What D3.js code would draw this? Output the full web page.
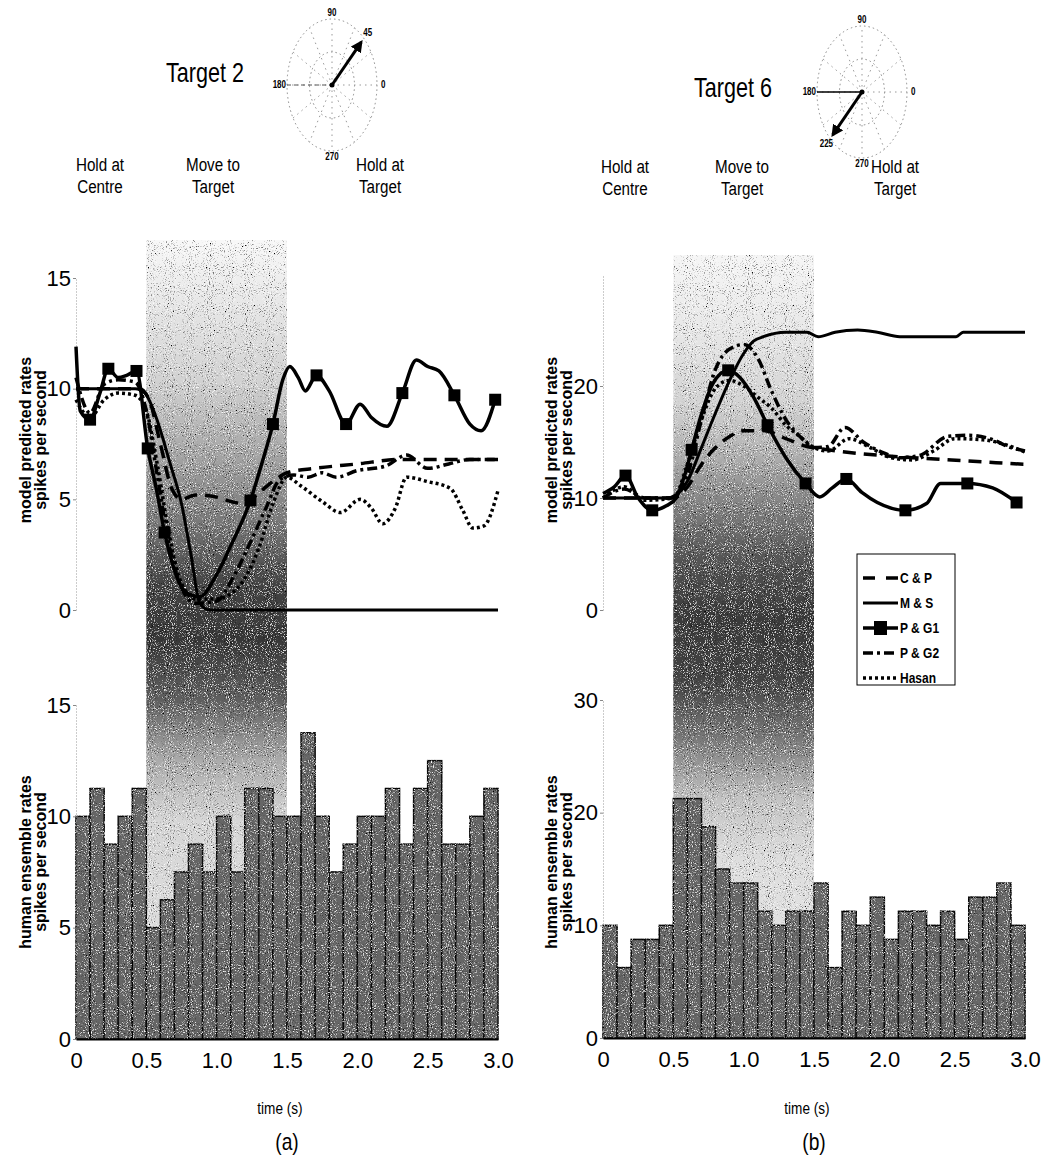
<!DOCTYPE html>
<html>
<head>
<meta charset="utf-8">
<script src="https://cdn.jsdelivr.net/npm/d3@7"></script>
<style>
  body { margin: 0; background: #fff; }
  svg { display: block; }
  text { font-family: "Liberation Sans", Arial, sans-serif; fill: #000; }
</style>
</head>
<body>
<svg id="fig" width="1041" height="1165"></svg>
<script>
// ---- data ----
const panelTitles = ['Target 2', 'Target 6'];
const targetAngles = [45, 225];
const panelLetters = ['(a)', '(b)'];
const phaseNames = [['Hold at', 'Centre'], ['Move to', 'Target'], ['Hold at', 'Target']];
const seriesNames = ['C & P', 'M & S', 'P & G1', 'P & G2', 'Hasan'];
const movePeriod = [0.5, 1.5];

const timeTicks = [0, 0.5, 1, 1.5, 2, 2.5, 3];
const timeTickLabels = ['0', '0.5', '1.0', '1.5', '2.0', '2.5', '3.0'];
const topTicksA = [0, 5, 10, 15];
const topTicksB = [0, 10, 20];
const histTicksA = [0, 5, 10, 15];
const histTicksB = [0, 10, 20, 30];

// histogram bins (s) and human ensemble rates (spikes/s)
const binStarts = [0, 0.1, 0.2, 0.3, 0.4, 0.5, 0.6, 0.7, 0.8, 0.9, 1.0, 1.1, 1.2, 1.3, 1.4,
                   1.5, 1.6, 1.7, 1.8, 1.9, 2.0, 2.1, 2.2, 2.3, 2.4, 2.5, 2.6, 2.7, 2.8, 2.9];
const histA = [10, 11.25, 8.75, 10, 11.25, 5, 6.25, 7.5, 8.75, 7.5, 10, 7.5, 11.25, 11.25, 10,
               10, 13.75, 10, 7.5, 8.75, 10, 10, 11.25, 8.75, 11.25, 12.5, 8.75, 8.75, 10, 11.25];
const histB = [10, 6.25, 8.75, 8.75, 10, 21.25, 21.25, 18.75, 15, 13.75, 13.75, 11.25, 10, 11.25, 11.25,
               13.75, 6.25, 11.25, 10, 12.5, 8.75, 11.25, 11.25, 10, 11.25, 8.75, 12.5, 12.5, 13.75, 10];

// model predicted rates, Target 2
const aCpT = [0, 0.45, 0.52, 0.6, 0.68, 0.75, 0.85, 1.0, 1.1, 1.2, 1.3, 1.42, 1.5, 1.7, 2.0, 2.3, 2.5, 3.0];
const aCpV = [10, 10, 9.5, 7.5, 5.5, 5.0, 5.2, 5.1, 4.9, 4.8, 5.3, 5.9, 6.2, 6.4, 6.6, 6.8, 6.8, 6.8];
const aMsT = [0, 0.42, 0.49, 0.57, 0.67, 0.75, 0.82, 0.88, 0.95, 3.0];
const aMsV = [10, 10, 9.8, 8.7, 6.6, 4.8, 2.4, 0.3, 0, 0];
const aPg1T = [0, 0.03, 0.1, 0.17, 0.23, 0.3, 0.36, 0.43, 0.51, 0.57, 0.63, 0.7, 0.78, 0.88, 1.0, 1.1,
               1.24, 1.32, 1.4, 1.47, 1.52, 1.58, 1.63, 1.71, 1.8, 1.92, 2.02, 2.1, 2.21, 2.32, 2.42,
               2.5, 2.58, 2.69, 2.8, 2.88, 2.98];
const aPg1V = [11.9, 9.0, 8.6, 9.8, 10.9, 10.5, 10.6, 10.8, 7.3, 5.5, 3.5, 1.8, 0.8, 0.6, 1.6, 2.9,
               4.95, 6.6, 8.4, 10.4, 11.0, 10.5, 9.9, 10.6, 9.9, 8.4, 9.3, 8.7, 8.3, 9.8, 11.3,
               11.0, 10.8, 9.7, 8.4, 8.1, 9.5];
const aPg1MarkT = [0.1, 0.23, 0.43, 0.51, 0.63, 1.24, 1.4, 1.71, 1.92, 2.32, 2.69, 2.98];
const aPg1MarkV = [8.6, 10.9, 10.8, 7.3, 3.5, 4.95, 8.4, 10.6, 8.4, 9.8, 9.7, 9.5];
const aPg2T = [0, 0.1, 0.2, 0.3, 0.42, 0.5, 0.58, 0.66, 0.75, 0.85, 1.0, 1.12, 1.25, 1.35, 1.45, 1.55,
               1.65, 1.75, 1.85, 2.0, 2.2, 2.35, 2.5, 2.65, 2.8, 3.0];
const aPg2V = [10.5, 8.9, 10.2, 10.4, 10.3, 9.0, 6.0, 3.0, 1.0, 0.3, 0.4, 1.5, 3.2, 4.6, 5.9, 6.1,
               6.0, 6.2, 6.0, 6.3, 6.5, 7.0, 6.4, 6.6, 6.8, 6.8];
const aHasT = [0, 0.1, 0.2, 0.3, 0.42, 0.5, 0.58, 0.66, 0.75, 0.85, 1.0, 1.15, 1.3, 1.4, 1.5, 1.6,
               1.75, 1.88, 2.02, 2.1, 2.18, 2.27, 2.35, 2.5, 2.66, 2.75, 2.82, 2.9, 3.0];
const aHasV = [9.5, 8.7, 9.5, 9.8, 9.7, 9.0, 6.5, 3.5, 1.2, 0.5, 0.5, 1.0, 2.8, 4.8, 6.0, 5.6,
               4.9, 4.4, 5.0, 4.6, 3.9, 4.6, 6.0, 5.8, 5.5, 4.5, 3.7, 3.8, 5.4];

// model predicted rates, Target 6
const bCpT = [0, 0.5, 0.6, 0.7, 0.8, 0.9, 1.0, 1.15, 1.3, 1.45, 1.6, 1.8, 2.2, 2.6, 3.0];
const bCpV = [10, 10, 11, 13, 14.5, 15.5, 16, 16, 15.3, 14.6, 14.3, 14, 13.6, 13.3, 13];
const bMsT = [0, 0.45, 0.52, 0.6, 0.7, 0.81, 0.9, 1.0, 1.07, 1.14, 1.3, 1.45, 1.53, 1.65, 1.81,
              1.95, 2.11, 2.3, 2.51, 2.56, 3.0];
const bMsV = [10, 10, 10.3, 11.5, 14.5, 17.9, 20.5, 22.9, 24.0, 24.4, 24.8, 24.8, 24.4, 24.8, 25.0,
              24.8, 24.4, 24.4, 24.4, 24.8, 24.8];
const bPg1T = [0, 0.08, 0.16, 0.25, 0.35, 0.45, 0.52, 0.58, 0.63, 0.7, 0.78, 0.89, 0.97, 1.07, 1.17,
               1.3, 1.44, 1.54, 1.63, 1.73, 1.84, 1.95, 2.15, 2.3, 2.4, 2.59, 2.77, 2.94];
const bPg1V = [10.4, 11, 12, 10, 8.9, 9.3, 10.0, 12, 14.3, 17.5, 20.2, 21.4, 20.8, 19, 16.5,
               13.6, 11.3, 10.1, 10.9, 11.7, 10.5, 9.6, 8.9, 9.5, 11.3, 11.3, 10.9, 9.6];
const bPg1MarkT = [0.16, 0.35, 0.63, 0.89, 1.17, 1.44, 1.73, 2.15, 2.59, 2.94];
const bPg1MarkV = [12, 8.9, 14.3, 21.4, 16.5, 11.3, 11.7, 8.9, 11.3, 9.6];
const bPg2T = [0, 0.15, 0.3, 0.5, 0.6, 0.7, 0.8, 0.9, 1.0, 1.1, 1.2, 1.3, 1.4, 1.5, 1.6, 1.72, 1.85,
               2.0, 2.1, 2.25, 2.45, 2.6, 2.75, 2.9, 3.0];
const bPg2V = [10, 10.8, 10, 10, 12, 17, 21.5, 23.3, 23.7, 22.5, 19.5, 17, 15.5, 14.5, 14.6, 16.3, 15,
               14, 13.6, 13.8, 15.5, 15.6, 15.3, 14.5, 14.2];
const bHasT = [0, 0.15, 0.3, 0.5, 0.6, 0.7, 0.8, 0.9, 1.0, 1.1, 1.2, 1.3, 1.4, 1.5, 1.6, 1.75, 1.9,
               2.05, 2.2, 2.35, 2.5, 2.7, 2.9, 3.0];
const bHasV = [10, 11, 9.8, 10, 13, 17, 19.8, 20.5, 20, 19, 18, 16.5, 15.5, 14.5, 14.2, 15.3, 14.5,
               13.6, 13.4, 14.2, 15.3, 15.2, 14.6, 14.1];

// ---- drawing ----
const lineStyles = {
  'C & P':  { width: 3.5, dash: '13,8' },
  'M & S':  { width: 3, dash: null },
  'P & G1': { width: 3.5, dash: null },
  'P & G2': { width: 3.5, dash: '10,4,3,4' },
  'Hasan':  { width: 3.5, dash: '3,3' }
};

const zip = (t, v) => t.map((d, i) => [d, v[i]]);

const panels = [
  {
    x0: 76, x1: 498, topMax: 15, topRange: [610, 278], histMax: 15, histRange: [1039, 705],
    topTicks: topTicksA, histTicks: histTicksA, hist: histA, bandTop: 240,
    bandStops: [[240, '#f8f8f8'], [300, '#e8e8e8'], [380, '#d2d2d2'], [450, '#a8a8a8'], [520, '#7a7a7a'],
                [585, '#444'], [640, '#383838'], [700, '#606060'], [760, '#aaa'],
                [820, '#d6d6d6'], [1039, '#e2e2e2']],
    series: {
      'C & P': zip(aCpT, aCpV), 'M & S': zip(aMsT, aMsV), 'P & G1': zip(aPg1T, aPg1V),
      'P & G2': zip(aPg2T, aPg2V), 'Hasan': zip(aHasT, aHasV)
    },
    marks: zip(aPg1MarkT, aPg1MarkV),
    polar: { cx: 332, cy: 85, solidLeft: false }, titleX: 205, titleY: 82, phaseY: 171,
    phaseX: [100, 213, 380], axisTitleX: [31, 46]
  },
  {
    x0: 603, x1: 1025, topMax: 30, topRange: [610, 274], histMax: 30, histRange: [1038, 700],
    topTicks: topTicksB, histTicks: histTicksB, hist: histB, bandTop: 255,
    bandStops: [[255, '#f6f6f6'], [330, '#e8e8e8'], [400, '#d4d4d4'], [450, '#b4b4b4'], [500, '#868686'],
                [560, '#555'], [620, '#3a3a3a'], [680, '#444'], [740, '#7a7a7a'], [800, '#c4c4c4'],
                [860, '#dedede'], [1038, '#e6e6e6']],
    series: {
      'C & P': zip(bCpT, bCpV), 'M & S': zip(bMsT, bMsV), 'P & G1': zip(bPg1T, bPg1V),
      'P & G2': zip(bPg2T, bPg2V), 'Hasan': zip(bHasT, bHasV)
    },
    marks: zip(bPg1MarkT, bPg1MarkV),
    polar: { cx: 862, cy: 92, solidLeft: true }, titleX: 733, titleY: 97, phaseY: 173,
    phaseX: [625, 742, 895], axisTitleX: [557, 572]
  }
];

const svg = d3.select('#fig');
const defs = svg.append('defs');

// condensed text, the figure uses a narrow face
function narrowText(g, txt, x, y, size, anchor, weight) {
  return g.append('text')
    .attr('transform', `translate(${x},${y}) scale(0.8,1)`)
    .attr('text-anchor', anchor || 'middle')
    .attr('font-size', size)
    .attr('font-weight', weight || 'normal')
    .text(txt);
}

// grainy print texture
const f = defs.append('filter').attr('id', 'speck')
  .attr('x', '-2%').attr('y', '-2%').attr('width', '104%').attr('height', '104%');
f.append('feTurbulence').attr('type', 'fractalNoise').attr('baseFrequency', 0.95)
  .attr('numOctaves', 2).attr('seed', 4).attr('result', 'noise');
f.append('feColorMatrix').attr('in', 'noise').attr('type', 'matrix')
  .attr('values', '0 0 0 0 1  0 0 0 0 1  0 0 0 0 1  4 0 0 0 -2.3').attr('result', 'light');
f.append('feColorMatrix').attr('in', 'noise').attr('type', 'matrix')
  .attr('values', '0 0 0 0 0  0 0 0 0 0  0 0 0 0 0  -4 0 0 0 1.7').attr('result', 'dark');
f.append('feComposite').attr('in', 'light').attr('in2', 'SourceAlpha').attr('operator', 'in').attr('result', 'lightIn');
f.append('feComposite').attr('in', 'dark').attr('in2', 'SourceAlpha').attr('operator', 'in').attr('result', 'darkIn');
const fm = f.append('feMerge');
fm.append('feMergeNode').attr('in', 'SourceGraphic');
fm.append('feMergeNode').attr('in', 'lightIn');
fm.append('feMergeNode').attr('in', 'darkIn');

// arrow head for the target direction
defs.append('marker').attr('id', 'arrowHead')
  .attr('viewBox', '0 0 10 10').attr('refX', 8).attr('refY', 5)
  .attr('markerWidth', 4).attr('markerHeight', 4).attr('orient', 'auto')
  .append('path').attr('d', 'M0,0 L10,5 L0,10 z').attr('fill', '#000');

function drawPolar(g, p, angle) {
  const rx = 45, ry = 66;
  const r = d3.scaleLinear().domain([0, 1]).range([0, 1]);
  const pt = (deg, k) => [p.cx + rx * r(k) * Math.cos(deg * Math.PI / 180),
                          p.cy - ry * r(k) * Math.sin(deg * Math.PI / 180)];

  [0.5, 1].forEach(k => {
    g.append('ellipse').attr('cx', p.cx).attr('cy', p.cy)
      .attr('rx', rx * k).attr('ry', ry * k)
      .attr('fill', 'none').attr('stroke', '#888').attr('stroke-width', 1)
      .attr('stroke-dasharray', '1.5,3');
  });
  d3.range(0, 360, 30).forEach(a => {
    const e = pt(a, 1);
    g.append('line').attr('x1', p.cx).attr('y1', p.cy).attr('x2', e[0]).attr('y2', e[1])
      .attr('stroke', '#999').attr('stroke-width', 1).attr('stroke-dasharray', '1.5,4');
  });
  if (p.solidLeft) {
    g.append('line').attr('x1', p.cx - rx).attr('y1', p.cy).attr('x2', p.cx).attr('y2', p.cy)
      .attr('stroke', '#000').attr('stroke-width', 1.5);
  } else {
    g.append('line').attr('x1', p.cx - rx).attr('y1', p.cy).attr('x2', p.cx).attr('y2', p.cy)
      .attr('stroke', '#555').attr('stroke-width', 1).attr('stroke-dasharray', '4,3');
  }

  const lab = (txt, x, y, anchor) => narrowText(g, txt, x, y, 10, anchor, 'bold');
  lab('90', p.cx, p.cy - ry - 3, 'middle');
  lab('270', p.cx, p.cy + ry + 9, 'middle');
  lab('180', p.cx - rx - 1, p.cy + 3, 'end');
  lab('0', p.cx + rx + 4, p.cy + 3, 'start');

  const tip = pt(angle, 0.92);
  g.append('line').attr('x1', p.cx).attr('y1', p.cy).attr('x2', tip[0]).attr('y2', tip[1])
    .attr('stroke', '#000').attr('stroke-width', 3).attr('marker-end', 'url(#arrowHead)');
  g.append('circle').attr('cx', p.cx).attr('cy', p.cy).attr('r', 2.5).attr('fill', '#000');
  const lp = pt(angle, 1.12);
  lab(String(angle), lp[0], lp[1] + 3, 'middle');
}

panels.forEach((p, pi) => {
  const g = svg.append('g');
  const x = d3.scaleLinear().domain([0, 3]).range([p.x0, p.x1]);
  const yTop = d3.scaleLinear().domain([0, p.topMax]).range(p.topRange);
  const yHist = d3.scaleLinear().domain([0, p.histMax]).range(p.histRange);

  // shaded movement period
  const gradId = 'band' + pi;
  const lg = defs.append('linearGradient').attr('id', gradId)
    .attr('gradientUnits', 'userSpaceOnUse')
    .attr('x1', 0).attr('x2', 0).attr('y1', p.bandTop).attr('y2', p.histRange[0]);
  p.bandStops.forEach(s => {
    lg.append('stop').attr('offset', (s[0] - p.bandTop) / (p.histRange[0] - p.bandTop))
      .attr('stop-color', s[1]);
  });
  g.append('rect')
    .attr('x', x(movePeriod[0])).attr('width', x(movePeriod[1]) - x(movePeriod[0]))
    .attr('y', p.bandTop).attr('height', p.histRange[0] - p.bandTop)
    .attr('fill', `url(#${gradId})`).attr('filter', 'url(#speck)');

  // histogram
  const bars = g.append('g').attr('filter', 'url(#speck)');
  bars.selectAll('rect').data(p.hist).enter().append('rect')
    .attr('x', (d, i) => x(binStarts[i]))
    .attr('width', (d, i) => x(binStarts[i] + 0.1) - x(binStarts[i]))
    .attr('y', d => yHist(d))
    .attr('height', d => yHist(0) - yHist(d))
    .attr('fill', '#666').attr('stroke', '#111').attr('stroke-width', 1.5);

  // axes
  const styleYAxis = (ax) => {
    ax.select('.domain').attr('stroke', '#999').attr('stroke-dasharray', '1,2');
    ax.selectAll('.tick line').attr('stroke', '#888');
    ax.selectAll('.tick text').attr('font-size', 22).attr('fill', '#000');
  };
  const topAxis = g.append('g').attr('transform', `translate(${p.x0},0)`)
    .call(d3.axisLeft(yTop).tickValues(p.topTicks).tickSize(3).tickSizeOuter(0).tickPadding(2));
  styleYAxis(topAxis);
  const histAxis = g.append('g').attr('transform', `translate(${p.x0},0)`)
    .call(d3.axisLeft(yHist).tickValues(p.histTicks).tickSize(3).tickSizeOuter(0).tickPadding(2));
  styleYAxis(histAxis);

  const xAxis = g.append('g').attr('transform', `translate(0,${p.histRange[0]})`)
    .call(d3.axisBottom(x).tickValues(timeTicks).tickSize(0).tickPadding(13)
      .tickFormat((d, i) => timeTickLabels[i]));
  xAxis.select('.domain').attr('stroke', '#000').attr('stroke-width', 2);
  xAxis.selectAll('.tick text').attr('font-size', 22);

  // model curves
  const line = d3.line().x(d => x(d[0])).y(d => yTop(d[1])).curve(d3.curveMonotoneX);
  ['Hasan', 'P & G2', 'C & P', 'M & S', 'P & G1'].forEach(name => {
    const st = lineStyles[name];
    g.append('path').datum(p.series[name]).attr('d', line)
      .attr('fill', 'none').attr('stroke', '#000')
      .attr('stroke-width', st.width).attr('stroke-dasharray', st.dash)
      .attr('stroke-linejoin', 'round');
  });
  g.selectAll('.mark').data(p.marks).enter().append('rect').attr('class', 'mark')
    .attr('x', d => x(d[0]) - 6).attr('y', d => yTop(d[1]) - 6)
    .attr('width', 12).attr('height', 12).attr('fill', '#000');

  // axis titles
  const vTitle = (lines, cy) => lines.forEach((t, i) => {
    g.append('text').attr('transform', `translate(${p.axisTitleX[i]},${cy}) rotate(-90)`)
      .attr('text-anchor', 'middle').attr('font-size', 16).attr('font-weight', 'bold').text(t);
  });
  vTitle(['model predicted rates', 'spikes per second'], 440);
  vTitle(['human ensemble rates', 'spikes per second'], 862);

  narrowText(g, 'time (s)', x(1.45), 1114, 17, 'middle');
  narrowText(g, panelLetters[pi], x(1.5), 1150, 24, 'middle');

  // headings
  narrowText(g, panelTitles[pi], p.titleX, p.titleY, 27, 'middle');
  phaseNames.forEach((lines, k) => {
    lines.forEach((t, j) => {
      narrowText(g, t, p.phaseX[k], p.phaseY + j * 22, 19, 'middle');
    });
  });

  drawPolar(g.append('g'), p.polar, targetAngles[pi]);
});

// legend (right panel)
const leg = svg.append('g').attr('transform', 'translate(857,554)');
leg.append('rect').attr('width', 98).attr('height', 131)
  .attr('fill', '#fff').attr('stroke', '#000').attr('stroke-width', 1);
seriesNames.forEach((name, i) => {
  const yy = 24 + i * 25;
  const st = lineStyles[name];
  leg.append('line').attr('x1', 6).attr('x2', 41).attr('y1', yy).attr('y2', yy)
    .attr('stroke', '#000').attr('stroke-width', st.width)
    .attr('stroke-dasharray', name === 'C & P' ? '12,11' : st.dash);
  if (name === 'P & G1') {
    leg.append('rect').attr('x', 17).attr('y', yy - 7).attr('width', 13).attr('height', 14).attr('fill', '#000');
  }
  narrowText(leg, name, 43, yy + 5, 15, 'start', 'bold');
});
</script>
</body>
</html>
